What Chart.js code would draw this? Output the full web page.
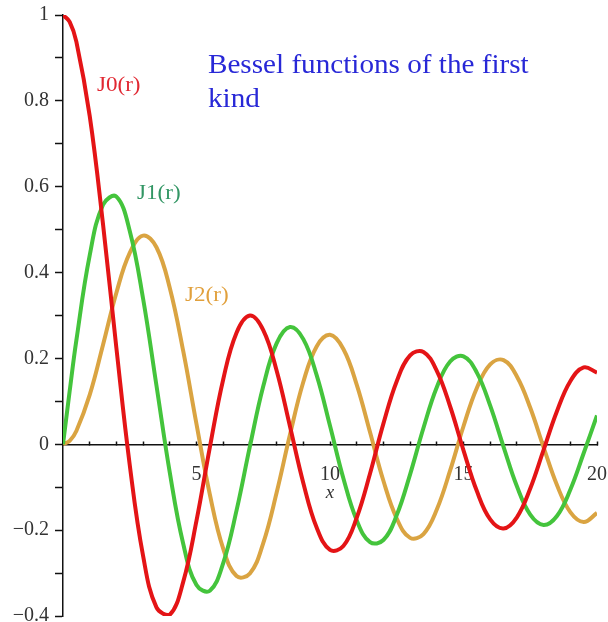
<!DOCTYPE html>
<html>
<head>
<meta charset="utf-8">
<script src="https://cdn.jsdelivr.net/npm/chart.js@4"></script>
<style>
  body { margin: 0; background: #fff; }
</style>
</head>
<body>
<canvas id="bessel" width="608" height="622"></canvas>
<script>
var xs = [0, 0.25, 0.5, 1, 1.5, 2, 2.5, 3, 3.5, 4, 4.5, 5, 5.5, 6, 6.5, 7, 7.5, 8, 8.5, 9, 9.5,
          10, 10.5, 11, 11.5, 12, 12.5, 13, 13.5, 14, 14.5, 15, 15.5, 16, 16.5, 17, 17.5, 18, 18.5, 19, 19.5, 20];
var j0 = [1, 0.984, 0.938, 0.765, 0.512, 0.224, -0.048, -0.260, -0.380, -0.397, -0.321, -0.178, -0.007, 0.151, 0.260, 0.300, 0.266, 0.172, 0.042, -0.090, -0.194,
          -0.246, -0.237, -0.171, -0.068, 0.048, 0.147, 0.207, 0.215, 0.171, 0.088, -0.014, -0.109, -0.175, -0.196, -0.170, -0.103, -0.013, 0.077, 0.147, 0.179, 0.167];
var j1 = [0, 0.124, 0.242, 0.440, 0.558, 0.577, 0.497, 0.339, 0.137, -0.066, -0.231, -0.328, -0.341, -0.277, -0.154, -0.005, 0.135, 0.235, 0.273, 0.245, 0.161,
          0.043, -0.079, -0.177, -0.228, -0.223, -0.165, -0.070, 0.038, 0.133, 0.193, 0.205, 0.167, 0.090, -0.006, -0.098, -0.164, -0.188, -0.167, -0.106, -0.021, 0.067];
var j2 = [0, 0.008, 0.031, 0.115, 0.232, 0.353, 0.446, 0.486, 0.459, 0.364, 0.218, 0.047, -0.117, -0.243, -0.307, -0.301, -0.230, -0.113, 0.022, 0.145, 0.228,
          0.255, 0.222, 0.139, 0.028, -0.085, -0.173, -0.218, -0.209, -0.152, -0.061, 0.042, 0.131, 0.186, 0.196, 0.158, 0.085, -0.007, -0.095, -0.158, -0.181, -0.160];

var names = ["J0(r)", "J1(r)", "J2(r)"];
var lineColors = ["rgb(228,20,22)", "rgb(68,196,60)", "rgb(218,164,66)"];
var labelColors = ["rgb(225,40,50)", "rgb(50,150,100)", "rgb(225,160,60)"];

function pts(ys) {
  return xs.map(function (x, i) { return { x: x, y: ys[i] }; });
}

// text placed in data coordinates (alphabetic baseline)
var notes = [
  { text: "Bessel functions of the first", x: 5.43, y: 0.865, color: "rgb(40,40,215)", size: 27, sx: 1.08 },
  { text: "kind", x: 5.43, y: 0.786, color: "rgb(40,40,215)", size: 27, sx: 1.08 },
  { text: names[0], x: 1.27, y: 0.823, color: labelColors[0], size: 21, sx: 1.1 },
  { text: names[1], x: 2.77, y: 0.571, color: labelColors[1], size: 21, sx: 1.1 },
  { text: names[2], x: 4.57, y: 0.334, color: labelColors[2], size: 21, sx: 1.1 },
  { text: "x", x: 10, y: -0.125, color: "#333", size: 19, sx: 1, italic: true, center: true }
];

var textPlugin = {
  id: "notes",
  afterDatasetsDraw: function (chart) {
    var ctx = chart.ctx;
    notes.forEach(function (n) {
      var px = chart.scales.x.getPixelForValue(n.x);
      var py = chart.scales.y.getPixelForValue(n.y);
      ctx.save();
      ctx.translate(px, py);
      ctx.scale(n.sx, 1);
      ctx.textBaseline = "alphabetic";
      ctx.textAlign = n.center ? "center" : "left";
      ctx.font = (n.italic ? "italic " : "") + n.size + "px 'Liberation Serif'";
      ctx.fillStyle = n.color;
      ctx.fillText(n.text, 0, 0);
      ctx.restore();
    });
  }
};

new Chart("bessel", {
  type: "line",
  data: {
    datasets: [j0, j1, j2].map(function (ys, i) {
      return {
        label: names[i],
        data: pts(ys),
        borderColor: lineColors[i],
        backgroundColor: lineColors[i],
        borderWidth: 4,
        pointRadius: 0,
        fill: false,
        tension: 0.4
      };
    })
  },
  options: {
    responsive: false,
    animation: false,
    layout: { padding: { left: 0, right: 11, top: 15, bottom: 6 } },
    plugins: { legend: { display: false }, tooltip: { enabled: false } },
    scales: {
      x: {
        type: "linear",
        min: 0,
        max: 20,
        position: { y: 0 },
        border: { color: "#111", width: 1.5 },
        grid: { drawOnChartArea: false, tickLength: -4, tickColor: "#111", tickWidth: 1.5 },
        ticks: {
          stepSize: 1,
          autoSkip: false,
          maxRotation: 0,
          padding: 22,
          color: "#333",
          font: { family: "Liberation Serif", size: 20 },
          callback: function (v) { return (v > 0 && v % 5 === 0) ? String(v) : ""; }
        },
        afterFit: function (s) { s.paddingLeft = 0; s.paddingRight = 0; s.paddingTop = 0; s.paddingBottom = 0; }
      },
      y: {
        min: -0.4,
        max: 1,
        border: { color: "#111", width: 1.5 },
        grid: { drawOnChartArea: false, tickLength: 8, tickColor: "#111", tickWidth: 1.5 },
        ticks: {
          stepSize: 0.1,
          autoSkip: false,
          padding: 6,
          color: "#333",
          font: { family: "Liberation Serif", size: 20, lineHeight: 1 },
          callback: function (v) {
            var r = Math.round(v * 10);
            if (r % 2 !== 0) return "";
            if (r === 0) return "0";
            if (r === 10) return "1";
            return (r < 0 ? "\u2212" : "") + (Math.abs(r) / 10).toFixed(1);
          }
        },
        afterFit: function (s) { s.width = 63; s.paddingTop = 0; s.paddingBottom = 0; }
      }
    }
  },
  plugins: [textPlugin]
});
</script>
</body>
</html>
